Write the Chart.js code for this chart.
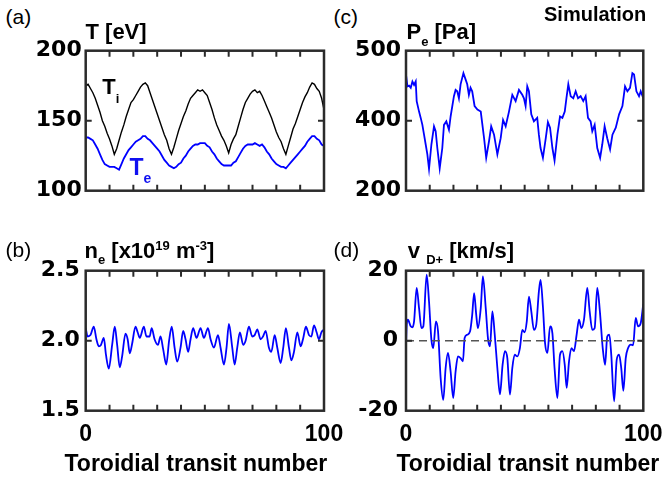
<!DOCTYPE html>
<html><head><meta charset="utf-8">
<script src="https://cdn.jsdelivr.net/npm/chart.js@4.4.1/dist/chart.umd.min.js"></script>
<style>
html,body{margin:0;padding:0;background:#fff;}
#fig{position:relative;width:664px;height:478px;overflow:hidden;background:#fff;}
canvas{position:absolute;}
.t{position:absolute;white-space:nowrap;line-height:1;font-family:"Liberation Sans",Arial,sans-serif;color:#000;}
.b{font-weight:bold;}
.s{position:relative;}
</style></head><body>
<div id="fig">
<canvas id="ca" width="340" height="180" style="left:0px;top:30px;"></canvas>
<canvas id="cc" width="324" height="180" style="left:340px;top:30px;"></canvas>
<canvas id="cb" width="350" height="228" style="left:0px;top:250px;"></canvas>
<canvas id="cd" width="324" height="228" style="left:340px;top:250px;"></canvas>

<div class="t" style="left:5.5px;top:5.8px;font-size:21px">(a)</div>
<div class="t b" style="left:85.5px;top:21.4px;font-size:22px">T [eV]</div>
<div class="t b" style="left:102.2px;top:76.4px;font-size:22px">T<span class="s" style="font-size:13px;top:9px">i</span></div>
<div class="t b" style="left:129.5px;top:155.5px;font-size:23px;color:#1010f0">T<span class="s" style="font-size:14px;top:8px">e</span></div>
<div class="t" style="left:333.5px;top:5.8px;font-size:21px">(c)</div>
<div class="t b" style="left:406.5px;top:21.4px;font-size:22px">P<span class="s" style="font-size:13px;top:6.7px">e</span> [Pa]</div>
<div class="t b" style="left:544px;top:4.1px;font-size:20px">Simulation</div>
<div class="t" style="left:5.5px;top:238.7px;font-size:21px">(b)</div>
<div class="t b" style="left:84.5px;top:239.9px;font-size:22px">n<span class="s" style="font-size:13px;top:6.5px">e</span> [x10<span class="s" style="font-size:13px;top:-8px">19</span> m<span class="s" style="font-size:13px;top:-8px">-3</span>]</div>
<div class="t" style="left:333.5px;top:238.7px;font-size:21px">(d)</div>
<div class="t b" style="left:407.8px;top:239.9px;font-size:22px">v <span class="s" style="font-size:13px;top:6.5px">D+</span> [km/s]</div>
<div class="t b" style="left:64.5px;top:452.2px;font-size:23px">Toroidial transit number</div>
<div class="t b" style="left:396.5px;top:452.2px;font-size:23px">Toroidial transit number</div>
</div>
<script>
// ---- data ----
const transit = Array.from({length: 101}, (_, i) => i);   // toroidal transit number grid for T_i / T_e
const tiValues = [
 175,176,173,170,166,161,156,150,146,141,
 137,132,126,130,136,142,147,153,158,163,
 165,168,171,174,176,177,175,170,165,160,
 155,150,145,140,136,130,126,131,137,143,
 148,153,157,162,166,168,170,172,171,172,
 170,168,163,158,152,147,143,139,136,132,
 127,133,137,140,146,152,158,163,166,169,
 171,172,170,171,168,164,160,156,152,147,
 142,138,135,130,126,132,138,144,148,153,
 158,163,167,170,174,177,176,173,171,166,
 158];
const teValues = [
 138,138,137,136,133,130,126,122,119,118,
 117,117,117,116,115,119,123,126,129,131,
 133,135,136,137,139,139,137,136,134,132,
 130,128,125,122,120,118,117,116,117,119,
 120,123,125,128,130,132,133,133,134,134,
 134,132,131,128,126,123,121,119,118,118,
 118,118,120,121,124,127,130,132,133,133,
 133,134,133,132,133,131,128,126,123,121,
 119,118,117,117,116,118,120,122,124,126,
 128,130,132,135,137,139,139,137,136,133,
 132];
const peX = [0,0.6,1.3,2,2.7,3.4,4.1,4.5,5.5,6.2,
 6.9,7.6,8.3,9,9.7,10.7,11.8,12.5,13.2,14.2,
 15.3,16,17,18.1,18.8,20.2,20.9,21.6,22.3,23,
 24.2,25.1,25.8,26.5,27.2,27.9,28.9,30.1,31.5,32.9,
 33.8,35,35.9,37.1,38.5,39.9,40.9,42,43.4,44.8,
 46.2,47.6,49,49.7,50.4,51.1,51.8,52.8,53.9,55.3,
 56,56.7,57.7,58.9,59.8,60.7,61.7,62.6,63.8,64.9,
 65.9,66.9,67.6,68.4,69.4,70.5,71.5,72.5,73.6,74.7,
 75.7,76.7,77.8,78.5,79.5,80.6,81.8,82.7,83.7,84.8,
 86,87,88.4,89.8,91.2,92.3,93.3,94.4,95.4,96.1,
 97.1,98.2,98.9,100];
const peValues = [466,449,450,447,456,451,456,428,413,404,
 394,380,366,352,331,366,392,385,361,332,
 361,394,399,387,406,435,444,442,432,452,
 468,459,452,437,447,442,421,416,413,375,
 347,371,392,380,352,375,401,392,413,437,
 428,444,437,432,421,449,442,409,399,404,
 380,361,347,375,398,390,361,343,380,406,
 404,413,432,452,435,432,442,432,435,428,
 435,404,399,385,394,361,347,366,392,375,
 359,380,390,409,421,449,442,447,468,466,
 442,435,442,432];
const neX = [0,0.8,2,3.4,4.5,5.5,6.4,7.6,8.5,9.7,
 11.1,12.2,13.2,14.3,15.3,16.7,17.6,18.5,19.5,20.9,
 21.8,22.7,24.4,25.5,26.8,27.7,28.9,30.3,31.4,32.5,
 33.8,35,36.1,37.3,38.4,39.8,40.9,41.9,43,44,
 45.1,46.5,48.2,49.6,51.3,52.4,53.8,55.5,56.6,58,
 59.1,60.1,61.5,62.5,63.6,64.7,66.1,67.1,68.5,69.9,
 70.9,72,73.4,74.4,75.5,76.9,77.9,79.3,80.4,81.8,
 82.9,84,85.3,86.3,87.4,88.8,90.2,91.3,92.4,93.7,
 94.7,95.8,96.9,97.9,98.9,100];
const neValues = [2.09,2.03,2.04,2.10,2.01,1.96,1.97,2.02,1.90,1.80,
 1.97,2.10,1.97,1.81,1.89,2.05,2.01,1.91,1.98,2.10,
 2.06,2.02,2.10,2.03,2.03,2.09,2.01,1.97,2.03,1.94,
 1.83,2.00,2.10,1.95,1.85,1.95,2.07,2.01,1.92,2.01,
 2.09,2.02,2.09,2.02,2.09,2.01,1.95,2.04,1.95,1.83,
 1.95,2.12,1.95,1.83,1.95,2.06,1.97,2.00,2.10,2.03,
 2.04,2.08,2.01,2.03,2.07,1.95,1.92,2.04,1.95,1.84,
 1.95,2.09,1.95,1.86,1.92,2.06,1.96,2.02,2.10,2.04,
 2.03,2.11,2.06,2.01,2.06,2.08];
const vX = [0,0.3,0.8,2,2.7,3.4,4.5,5.5,6.5,7.3,
 8.7,9.7,10.7,11.5,12.6,13.5,14.6,15.7,16.7,17.7,
 18.8,19.9,20.9,21.9,23,24,24.7,25.8,27,27.9,
 28.7,29.6,30.3,31.5,32.4,33.6,34.6,35.4,36.4,37.4,
 38.5,39.6,40.7,41.7,42.7,43.8,44.8,45.8,46.9,48,
 49,50,50.9,51.8,52.8,53.9,54.9,56,56.7,57.7,
 58.6,59.6,60.7,61.7,62.6,63.8,64.9,65.9,66.9,67.7,
 68.7,69.7,70.8,71.9,72.9,73.9,75,76.4,77.4,78.5,
 79.5,80.6,81.7,82.9,83.9,84.8,85.7,86.5,87.7,88.8,
 89.8,90.7,91.6,92.6,93.6,94.7,95.7,96.8,97.8,98.9,
 100];
const vValues = [-1.6,4.6,6,4.1,3.8,5.5,15.1,9.3,3.6,4.1,
 18.9,11.2,0.3,-2.1,5.5,2.7,-10.7,-16.9,-7.8,-3.5,
 -8.8,-16.4,-8.8,-4.5,-5,-5.9,0.8,1.7,2.7,7.4,
 13.6,7.4,3.6,9.3,18.4,9.3,0.3,-1.6,8.4,1.7,
 -7.8,-15.3,-6.9,-3,-5,-15.4,-7.8,-4,-4.5,-2.1,
 3.1,2.4,5.5,12.6,8.4,3.1,4.6,14.1,17.4,9.7,
 -0.7,-3.5,4.1,2.1,-7.8,-16.4,-4,-3,-6.9,-13.5,
 -5.9,-2.1,-3,1.7,6,3.6,6,15.1,8.4,3.1,
 3.6,15.1,8.4,-2.1,-6.9,1.2,1.7,-4,-17.3,-5.4,
 -4,-7.8,-14.3,-5,-2.1,-1.1,-1.3,6.5,4.1,5,
 10.5];
const zeroLineX = [0, 100];
const zeroLineY = [0, 0];

// tick values and labels
const xTickMarks = [10,20,30,40,50,60,70,80,90];
const xLabelValues = [0, 100];
const tTicks = [100,150,200],   tTickLabels = ['100','150','200'];
const peTicks = [300,400,500],  peTickLabels = ['200','400','500'];
const neTicks = [1.5,2.0,2.5],  neTickLabels = ['1.5','2.0','2.5'];
const vTicks = [-20,0,20],      vTickLabels = ['-20','0','20'];

// ---- helpers ----
const pts = (xs, ys) => xs.map((x, i) => ({x: x, y: ys[i]}));
const BLUE = '#0000ff';

function framePlugin(midTick) {
  return {
    id: 'frame',
    afterDatasetsDraw(chart) {
      const {ctx, chartArea: a, scales: {x, y}} = chart;
      ctx.save();
      ctx.strokeStyle = '#2b2b2b';
      ctx.lineWidth = 2.5;
      ctx.strokeRect(a.left, a.top, a.right - a.left, a.bottom - a.top);
      ctx.lineWidth = 2;
      ctx.beginPath();
      xTickMarks.forEach(v => {
        const px = x.getPixelForValue(v);
        ctx.moveTo(px, a.top); ctx.lineTo(px, a.top + 6);
        ctx.moveTo(px, a.bottom); ctx.lineTo(px, a.bottom - 6);
      });
      const py = y.getPixelForValue(midTick);
      ctx.moveTo(a.left, py); ctx.lineTo(a.left + 6, py);
      ctx.moveTo(a.right, py); ctx.lineTo(a.right - 6, py);
      ctx.stroke();
      ctx.restore();
    }
  };
}

function makePanel(id, c) {
  return new Chart(document.getElementById(id), {
    type: 'line',
    data: {datasets: c.datasets},
    options: {
      responsive: false, animation: false, devicePixelRatio: 1,
      layout: {padding: {left: 0, top: c.padTop, right: c.padRight, bottom: 0}},
      plugins: {legend: {display: false}, tooltip: {enabled: false}},
      elements: {point: {radius: 0}},
      scales: {
        x: {
          type: 'linear', min: 0, max: 100,
          grid: {display: false, drawTicks: false}, border: {display: false},
          afterBuildTicks(s) { s.ticks = xLabelValues.map(v => ({value: v})); },
          afterFit(s) { s.height = c.xH; s.paddingLeft = 0; s.paddingRight = 0; },
          ticks: {display: c.showX, padding: 10, autoSkip: false, maxRotation: 0,
                  color: '#000', font: {family: 'Liberation Sans', weight: 'bold', size: 23},
                  callback: v => String(v)}
        },
        y: {
          type: 'linear', min: c.yTicks[0], max: c.yTicks[c.yTicks.length - 1],
          grid: {display: false, drawTicks: false}, border: {display: false},
          afterBuildTicks(s) { s.ticks = c.yTicks.map(v => ({value: v})); },
          afterFit(s) { s.width = c.yW; s.paddingTop = 0; s.paddingBottom = 0; },
          ticks: {padding: c.yPad, color: '#000',
                  font: {family: 'DejaVu Sans', weight: 'bold', size: 22},
                  callback: (v, i) => c.yLabels[i]}
        }
      }
    },
    plugins: [framePlugin(c.yTicks[1])]
  });
}

makePanel('ca', {
  datasets: [
    {data: pts(transit, tiValues), borderColor: '#000', borderWidth: 1.4, tension: 0},
    {data: pts(transit, teValues), borderColor: BLUE, borderWidth: 1.8, tension: 0}
  ],
  padTop: 20.7, padRight: 16, xH: 19.3, yW: 85.7, yPad: 4, showX: false,
  yTicks: tTicks, yLabels: tTickLabels
});
makePanel('cc', {
  datasets: [
    {data: pts(peX, peValues), borderColor: BLUE, borderWidth: 1.8, tension: 0}
  ],
  padTop: 20.7, padRight: 20.7, xH: 19.3, yW: 66, yPad: 5, showX: false,
  yTicks: peTicks, yLabels: peTickLabels
});
makePanel('cb', {
  datasets: [
    {data: pts(neX, neValues), borderColor: BLUE, borderWidth: 1.8, cubicInterpolationMode: 'monotone'}
  ],
  padTop: 20.7, padRight: 26, xH: 67.3, yW: 85.7, yPad: 6, showX: true,
  yTicks: neTicks, yLabels: neTickLabels
});
makePanel('cd', {
  datasets: [
    {data: pts(zeroLineX, zeroLineY), borderColor: '#555', borderWidth: 1.5, borderDash: [8, 5], tension: 0},
    {data: pts(vX, vValues), borderColor: BLUE, borderWidth: 1.8, cubicInterpolationMode: 'monotone'}
  ],
  padTop: 20.7, padRight: 20.7, xH: 67.3, yW: 66, yPad: 8, showX: true,
  yTicks: vTicks, yLabels: vTickLabels
});
</script>
</body></html>
